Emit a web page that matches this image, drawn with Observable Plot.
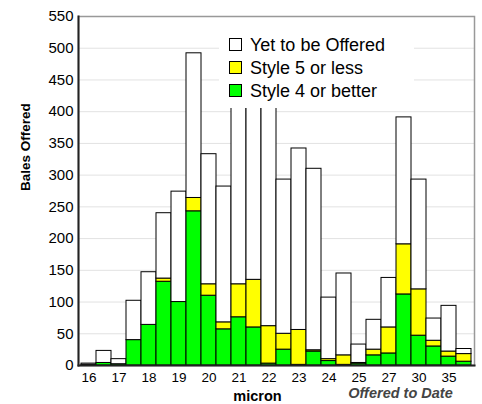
<!DOCTYPE html>
<html><head><meta charset="utf-8">
<script src="https://cdn.jsdelivr.net/npm/d3@7"></script>
<script src="https://cdn.jsdelivr.net/npm/@observablehq/plot@0.6"></script>
<style>
body{margin:0;background:#fff;font-family:Arial,"Liberation Sans",sans-serif;}
#wrap{position:relative;width:482px;height:404px;overflow:hidden;}
#legend{position:absolute;left:219px;top:30px;width:195px;height:78px;background:#fff;}
.sw{position:absolute;left:10px;width:11px;height:11px;border:1px solid #000;}
.lt{position:absolute;left:31px;font-size:18px;line-height:18px;color:#000;white-space:nowrap;}
</style></head><body>
<div id="wrap"></div>
<script>
// micron bins (two bars per labelled micron)
const bins = ["16","16.5","17","17.5","18","18.5","19","19.5","20","20.5","21","21.5","22","22.5","23","23.5","24","24.5","25","25.5","27","28","30","32","35","36"];
const xTicks = ["16","17","18","19","20","21","22","23","24","25","27","30","35"];
const yTicks = [0,50,100,150,200,250,300,350,400,450,500,550];
const seriesNames = ["Style 4 or better","Style 5 or less","Yet to be Offered"];
const seriesColors = ["#00ff00","#ffff00","#ffffff"];
const style4 = [1,4,2,40,64,132,100,243,110,57,76,60,3,25,1,22,7,1,3,16,19,112,47,30,14,6];
const style5 = [0,0,0,0,0,5,0,21,18,11,52,75,59,25,55,2,3,15,1,9,41,79,73,9,8,12];
const yetToBeOffered = [2,19,8,62,83,103,174,228,205,214,312,325,368,243,286,286,97,129,29,47,78,200,173,35,72,8];

const rows = [];
bins.forEach((b, i) => {
  rows.push({bin: b, series: seriesNames[0], value: style4[i]});
  rows.push({bin: b, series: seriesNames[1], value: style5[i]});
  rows.push({bin: b, series: seriesNames[2], value: yetToBeOffered[i]});
});

const chart = Plot.plot({
  width: 482, height: 404,
  marginLeft: 78, marginRight: 8, marginTop: 16, marginBottom: 39,
  style: {fontFamily: "Arial, 'Liberation Sans', sans-serif", background: "#fff", color: "#000"},
  x: {domain: bins, padding: 0, label: null},
  y: {domain: [0, 550], label: null},
  color: {domain: seriesNames, range: seriesColors},
  marks: [
    Plot.gridY(yTicks, {stroke: "#e2e2e2", strokeOpacity: 1, strokeWidth: 1}),
    Plot.frame({stroke: "#999", strokeWidth: 1.5}),
    Plot.barY(rows, {x: "bin", y: "value", fill: "series", stroke: "#000", strokeWidth: 1}),
    Plot.frame({anchor: "left", stroke: "#222", strokeWidth: 2}),
    Plot.frame({anchor: "bottom", stroke: "#222", strokeWidth: 2}),
    Plot.axisY({ticks: yTicks, tickSize: 0, tickPadding: 5, fontSize: 15, label: null}),
    Plot.axisX({ticks: xTicks, tickSize: 0, tickPadding: 7, fontSize: 13.5, label: null}),
    Plot.text(["Bales Offered"], {frameAnchor: "left", rotate: -90, dx: -53, fontSize: 13.5, fontWeight: "bold", fill: "#000"}),
    Plot.text(["micron"], {frameAnchor: "bottom", dx: -19, dy: 35, fontSize: 14.5, fontWeight: "bold", fill: "#000"}),
    Plot.text(["Offered to Date"], {frameAnchor: "bottom", dx: 124, dy: 32, fontSize: 14.5, fontWeight: "bold", fontStyle: "italic", fill: "#444"})
  ]
});

const wrap = document.getElementById("wrap");
wrap.appendChild(chart);
const legend = document.createElement("div");
legend.id = "legend";
const order = [2, 1, 0];
order.forEach((k, j) => {
  const sw = document.createElement("div");
  sw.className = "sw";
  sw.style.top = (8 + 23 * j) + "px";
  sw.style.background = seriesColors[k];
  legend.appendChild(sw);
  const t = document.createElement("div");
  t.className = "lt";
  t.style.top = (6 + 23 * j) + "px";
  t.textContent = seriesNames[k];
  legend.appendChild(t);
});
wrap.appendChild(legend);
</script>
</body></html>
